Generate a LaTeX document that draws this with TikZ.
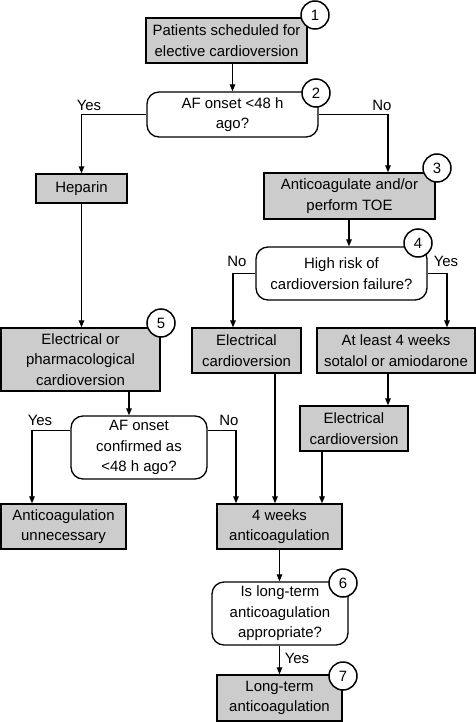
\documentclass[tikz,border=0pt]{standalone}
\usepackage{fontspec}
\setmainfont{Liberation Sans}
\usetikzlibrary{arrows.meta,positioning}
\definecolor{boxgray}{RGB}{204,204,204}
\tikzset{
  every node/.style={font=\fontsize{15}{20.5}\selectfont},
  procbox/.style={draw, fill=boxgray, line width=1.3bp, align=center, inner sep=0pt},
  decbox/.style={draw, fill=white, rounded corners=12bp, line width=1.3bp, align=center, inner sep=0pt},
  numcirc/.style={draw, fill=white, circle, line width=1.5bp, minimum size=28bp, inner sep=0pt},
  arr/.style={line width=1.2bp, -{Triangle[length=7bp,width=5.5bp]}},
  lbl/.style={inner sep=0pt}
}
\begin{document}
\begin{tikzpicture}[x=1bp,y=-1bp]
\useasboundingbox (0,0) rectangle (476,722);
% process boxes
\node[procbox, minimum width=161bp, minimum height=45bp] (b1) at (226.5,40.5) {Patients scheduled for\\elective cardioversion};
\node[decbox, minimum width=171bp, minimum height=45bp] (d2) at (232.5,114.5) {AF onset <48 h\\ago?};
\node[procbox, minimum width=91bp, minimum height=29bp] (hep) at (81.5,188.5) {Heparin};
\node[procbox, minimum width=171bp, minimum height=46bp] (b3) at (349.5,196) {Anticoagulate and/or\\perform TOE};
\node[decbox, minimum width=171bp, minimum height=53bp] (d4) at (341.5,273.5) {High risk of\\cardioversion failure?};
\node[procbox, minimum width=109bp, minimum height=45bp] (ec1) at (246.5,350.5) {Electrical\\cardioversion};
\node[procbox, minimum width=158bp, minimum height=45bp] (atl) at (396,350.5) {At least 4 weeks\\sotalol or amiodarone};
\node[procbox, minimum width=159bp, minimum height=63bp] (b5) at (80.5,359.5) {Electrical or\\pharmacological\\cardioversion};
\node[decbox, minimum width=136bp, minimum height=63bp] (d5) at (139,447.5) {AF onset\\confirmed as\\<48 h ago?};
\node[procbox, minimum width=108bp, minimum height=45bp] (ec2) at (354,428.5) {Electrical\\cardioversion};
\node[procbox, minimum width=125bp, minimum height=45bp] (unn) at (63.5,526.5) {Anticoagulation\\unnecessary};
\node[procbox, minimum width=125bp, minimum height=45bp] (w4) at (279.5,526.5) {4 weeks\\anticoagulation};
\node[decbox, minimum width=136bp, minimum height=63bp] (d6) at (280,613.5) {Is long-term\\anticoagulation\\appropriate?};
\node[procbox, minimum width=125bp, minimum height=46bp] (b7) at (279.5,698) {Long-term\\anticoagulation};
% connectors
\draw[arr] (b1.south -| d2.north) -- (d2.north);
\draw[arr] (d2.west) -| (hep.north);
\draw[arr] (d2.east) -| ([xshift=38.5bp]b3.north);
\draw[arr] ([xshift=-0.5bp]b3.south) -- ([xshift=-0.5bp]b3.south |- d4.north);
\draw[arr] (d4.west) -| ([xshift=-13.5bp]ec1.north);
\draw[arr] (d4.east) -| ([xshift=51bp]atl.north);
\draw[arr] ([xshift=-8bp]atl.south) -- ([xshift=-8bp]atl.south |- ec2.north);
\draw[arr] ([xshift=28.5bp]ec1.south) -- ([xshift=28.5bp]ec1.south |- w4.north);
\draw[arr] ([xshift=-32bp]ec2.south) -- ([xshift=-32bp]ec2.south |- w4.north);
\draw[arr] (hep.south) -- (hep.south |- b5.north);
\draw[arr] ([xshift=48.5bp]b5.south) -- ([xshift=48.5bp]b5.south |- d5.north);
\draw[arr] ([yshift=17bp]d5.east) -| ([xshift=-43.5bp]w4.north);
\draw[arr] ([yshift=17bp]d5.west) -| ([xshift=-31.5bp]unn.north);
\draw[arr] (w4.south) -- (w4.south |- d6.north);
\draw[arr] (d6.south -| b7.north) -- (b7.north);
% labels
\node[lbl] (y1) at (89,105) {Yes};
\node[lbl] (n1) at (382,105) {No};
\node[lbl] (n2) at (237,261) {No};
\node[lbl] (y2) at (446,261) {Yes};
\node[lbl] (y3) at (40,420) {Yes};
\node[lbl] (n3) at (229,420) {No};
\node[lbl] (y4) at (297,658) {Yes};
% number circles
\node[numcirc] (c1) at (315,15) {1};
\node[numcirc] (c2) at (316,93) {2};
\node[numcirc] (c3) at (437,168) {3};
\node[numcirc] (c4) at (418,243) {4};
\node[numcirc] (c5) at (161,323) {5};
\node[numcirc] (c6) at (343,583) {6};
\node[numcirc] (c7) at (343,676) {7};
\end{tikzpicture}
\end{document}
